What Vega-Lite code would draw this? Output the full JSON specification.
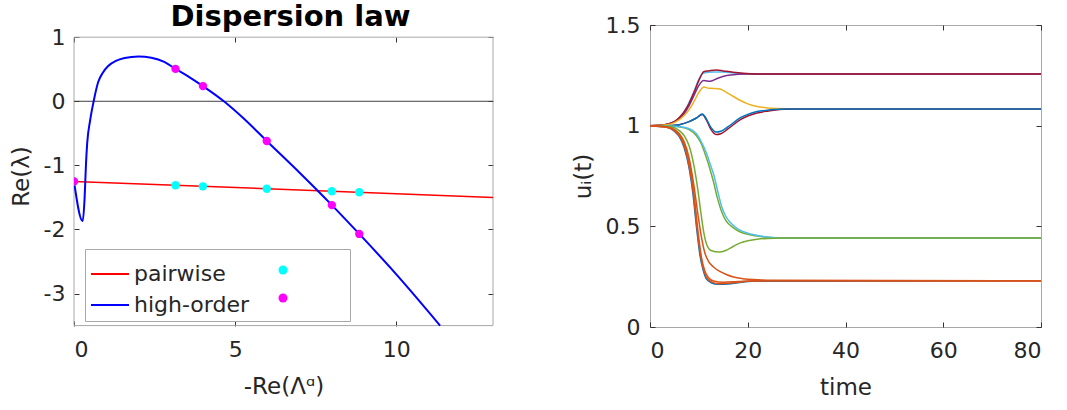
{
  "$schema": "https://vega.github.io/schema/vega-lite/v6.json",
  "padding": {"left": 10, "top": 2, "right": 5, "bottom": 5},
  "background": "white",
  "spacing": 77,
  "columns": 2,
  "align": "none",
  "resolve": {"scale": {"color": "independent", "fill": "independent"}, "legend": {"color": "independent", "fill": "independent"}},
  "config": {
    "font": "DejaVu Sans",
    "view": {"stroke": "#a8a8a8", "strokeWidth": 1},
    "axis": {
      "grid": false, "domain": false,
      "labelFont": "DejaVu Sans", "labelFontSize": 22, "labelColor": "#262626",
      "titleFont": "DejaVu Sans", "titleFontSize": 23, "titleFontWeight": "normal", "titleColor": "#262626",
      "tickColor": "#333333", "tickSize": -5
    },
    "title": {"font": "DejaVu Sans"}
  },
  "datasets": {
    "disp": [
      {"s": "pairwise", "x": 0, "y": -1.25},
      {"s": "pairwise", "x": 13, "y": -1.5},
      {"s": "high-order", "x": 0, "y": -1.25},
      {"s": "high-order", "x": 0.27, "y": -1.87},
      {"s": "high-order", "x": 0.33, "y": -1.5},
      {"s": "high-order", "x": 0.37, "y": -1.0},
      {"s": "high-order", "x": 0.41, "y": -0.65},
      {"s": "high-order", "x": 0.5, "y": -0.3},
      {"s": "high-order", "x": 0.61, "y": 0},
      {"s": "high-order", "x": 0.75, "y": 0.3},
      {"s": "high-order", "x": 0.9, "y": 0.45},
      {"s": "high-order", "x": 1.06, "y": 0.55},
      {"s": "high-order", "x": 1.3, "y": 0.63},
      {"s": "high-order", "x": 1.57, "y": 0.675},
      {"s": "high-order", "x": 2.0, "y": 0.7},
      {"s": "high-order", "x": 2.4, "y": 0.68},
      {"s": "high-order", "x": 2.8, "y": 0.615},
      {"s": "high-order", "x": 3.15, "y": 0.505},
      {"s": "high-order", "x": 3.6, "y": 0.37},
      {"s": "high-order", "x": 4.0, "y": 0.237},
      {"s": "high-order", "x": 4.65, "y": 0},
      {"s": "high-order", "x": 5.3, "y": -0.285},
      {"s": "high-order", "x": 5.98, "y": -0.62},
      {"s": "high-order", "x": 7.0, "y": -1.115},
      {"s": "high-order", "x": 8.0, "y": -1.62},
      {"s": "high-order", "x": 8.85, "y": -2.07},
      {"s": "high-order", "x": 10.0, "y": -2.7},
      {"s": "high-order", "x": 11.36, "y": -3.5}
    ],
    "pts": [
      {"k": "pairwise dots", "x": 0, "y": -1.25},
      {"k": "pairwise dots", "x": 3.15, "y": -1.31},
      {"k": "pairwise dots", "x": 4.0, "y": -1.327},
      {"k": "pairwise dots", "x": 5.98, "y": -1.365},
      {"k": "pairwise dots", "x": 8.0, "y": -1.404},
      {"k": "pairwise dots", "x": 8.85, "y": -1.42},
      {"k": "high-order dots", "x": 0, "y": -1.25},
      {"k": "high-order dots", "x": 3.15, "y": 0.505},
      {"k": "high-order dots", "x": 4.0, "y": 0.237},
      {"k": "high-order dots", "x": 5.98, "y": -0.62},
      {"k": "high-order dots", "x": 8.0, "y": -1.62},
      {"k": "high-order dots", "x": 8.85, "y": -2.07}
    ],
    "traj": [
      {"id": "c1", "t": 0, "u": 1.0}, {"id": "c1", "t": 3, "u": 1.005}, {"id": "c1", "t": 5, "u": 1.02}, {"id": "c1", "t": 7, "u": 1.07}, {"id": "c1", "t": 9, "u": 1.17}, {"id": "c1", "t": 10, "u": 1.23}, {"id": "c1", "t": 11, "u": 1.262}, {"id": "c1", "t": 13, "u": 1.266}, {"id": "c1", "t": 15, "u": 1.266}, {"id": "c1", "t": 17, "u": 1.262}, {"id": "c1", "t": 20, "u": 1.258}, {"id": "c1", "t": 24, "u": 1.257}, {"id": "c1", "t": 80, "u": 1.257},
      {"id": "p1", "t": 0, "u": 1.0}, {"id": "p1", "t": 3, "u": 1.005}, {"id": "p1", "t": 5, "u": 1.02}, {"id": "p1", "t": 6, "u": 1.035}, {"id": "p1", "t": 7, "u": 1.06}, {"id": "p1", "t": 8, "u": 1.1}, {"id": "p1", "t": 9, "u": 1.15}, {"id": "p1", "t": 10, "u": 1.2}, {"id": "p1", "t": 11, "u": 1.224}, {"id": "p1", "t": 12.3, "u": 1.22}, {"id": "p1", "t": 14, "u": 1.237}, {"id": "p1", "t": 15.7, "u": 1.249}, {"id": "p1", "t": 18, "u": 1.255}, {"id": "p1", "t": 20, "u": 1.257}, {"id": "p1", "t": 80, "u": 1.257},
      {"id": "r1", "t": 0, "u": 1.0}, {"id": "r1", "t": 3, "u": 1.005}, {"id": "r1", "t": 5, "u": 1.02}, {"id": "r1", "t": 6, "u": 1.04}, {"id": "r1", "t": 7, "u": 1.07}, {"id": "r1", "t": 8, "u": 1.11}, {"id": "r1", "t": 9, "u": 1.165}, {"id": "r1", "t": 10, "u": 1.225}, {"id": "r1", "t": 11, "u": 1.268}, {"id": "r1", "t": 12, "u": 1.272}, {"id": "r1", "t": 13.6, "u": 1.277}, {"id": "r1", "t": 15, "u": 1.272}, {"id": "r1", "t": 17, "u": 1.265}, {"id": "r1", "t": 19, "u": 1.26}, {"id": "r1", "t": 22, "u": 1.257}, {"id": "r1", "t": 80, "u": 1.257},
      {"id": "y1", "t": 0, "u": 1.0}, {"id": "y1", "t": 3, "u": 1.003}, {"id": "y1", "t": 5, "u": 1.015}, {"id": "y1", "t": 7, "u": 1.05}, {"id": "y1", "t": 8, "u": 1.08}, {"id": "y1", "t": 9, "u": 1.12}, {"id": "y1", "t": 10, "u": 1.165}, {"id": "y1", "t": 11.05, "u": 1.192}, {"id": "y1", "t": 12, "u": 1.186}, {"id": "y1", "t": 13, "u": 1.185}, {"id": "y1", "t": 14.3, "u": 1.182}, {"id": "y1", "t": 16, "u": 1.16}, {"id": "y1", "t": 18.5, "u": 1.125}, {"id": "y1", "t": 20, "u": 1.108}, {"id": "y1", "t": 21.9, "u": 1.095}, {"id": "y1", "t": 24, "u": 1.088}, {"id": "y1", "t": 26, "u": 1.085}, {"id": "y1", "t": 29, "u": 1.083}, {"id": "y1", "t": 80, "u": 1.083},
      {"id": "r2", "t": 0, "u": 0.998}, {"id": "r2", "t": 4, "u": 1.0}, {"id": "r2", "t": 6, "u": 1.005}, {"id": "r2", "t": 8, "u": 1.02}, {"id": "r2", "t": 9.5, "u": 1.038}, {"id": "r2", "t": 10.7, "u": 1.056}, {"id": "r2", "t": 11.5, "u": 1.03}, {"id": "r2", "t": 12.5, "u": 0.98}, {"id": "r2", "t": 13.5, "u": 0.956}, {"id": "r2", "t": 14.5, "u": 0.96}, {"id": "r2", "t": 16, "u": 0.985}, {"id": "r2", "t": 18.5, "u": 1.03}, {"id": "r2", "t": 20, "u": 1.048}, {"id": "r2", "t": 21.9, "u": 1.063}, {"id": "r2", "t": 24, "u": 1.072}, {"id": "r2", "t": 25.3, "u": 1.076}, {"id": "r2", "t": 27.4, "u": 1.081}, {"id": "r2", "t": 30, "u": 1.083}, {"id": "r2", "t": 80, "u": 1.083},
      {"id": "b1", "t": 0, "u": 0.998}, {"id": "b1", "t": 4, "u": 1.0}, {"id": "b1", "t": 6, "u": 1.005}, {"id": "b1", "t": 8, "u": 1.02}, {"id": "b1", "t": 9.5, "u": 1.038}, {"id": "b1", "t": 10.7, "u": 1.058}, {"id": "b1", "t": 11.5, "u": 1.035}, {"id": "b1", "t": 12.5, "u": 0.99}, {"id": "b1", "t": 13.5, "u": 0.968}, {"id": "b1", "t": 14.5, "u": 0.972}, {"id": "b1", "t": 16, "u": 0.995}, {"id": "b1", "t": 18.5, "u": 1.04}, {"id": "b1", "t": 20, "u": 1.056}, {"id": "b1", "t": 21.9, "u": 1.07}, {"id": "b1", "t": 24, "u": 1.077}, {"id": "b1", "t": 25.3, "u": 1.08}, {"id": "b1", "t": 28, "u": 1.083}, {"id": "b1", "t": 80, "u": 1.083},
      {"id": "g1", "t": 0, "u": 1.0}, {"id": "g1", "t": 4, "u": 0.998}, {"id": "g1", "t": 6, "u": 0.994}, {"id": "g1", "t": 8, "u": 0.98}, {"id": "g1", "t": 9.5, "u": 0.95}, {"id": "g1", "t": 10.5, "u": 0.91}, {"id": "g1", "t": 11.4, "u": 0.85}, {"id": "g1", "t": 12.2, "u": 0.79}, {"id": "g1", "t": 13, "u": 0.72}, {"id": "g1", "t": 13.8, "u": 0.64}, {"id": "g1", "t": 14.7, "u": 0.57}, {"id": "g1", "t": 15.5, "u": 0.53}, {"id": "g1", "t": 16.4, "u": 0.505}, {"id": "g1", "t": 17.5, "u": 0.485}, {"id": "g1", "t": 18.5, "u": 0.472}, {"id": "g1", "t": 20, "u": 0.46}, {"id": "g1", "t": 21.9, "u": 0.452}, {"id": "g1", "t": 24, "u": 0.446}, {"id": "g1", "t": 27, "u": 0.442}, {"id": "g1", "t": 80, "u": 0.4415},
      {"id": "c2", "t": 0, "u": 1.0}, {"id": "c2", "t": 4, "u": 0.998}, {"id": "c2", "t": 6, "u": 0.995}, {"id": "c2", "t": 8, "u": 0.985}, {"id": "c2", "t": 9.5, "u": 0.96}, {"id": "c2", "t": 10.5, "u": 0.92}, {"id": "c2", "t": 11.6, "u": 0.86}, {"id": "c2", "t": 12.3, "u": 0.81}, {"id": "c2", "t": 13, "u": 0.76}, {"id": "c2", "t": 13.8, "u": 0.68}, {"id": "c2", "t": 14.7, "u": 0.595}, {"id": "c2", "t": 15.5, "u": 0.55}, {"id": "c2", "t": 16.4, "u": 0.52}, {"id": "c2", "t": 17.5, "u": 0.495}, {"id": "c2", "t": 18.5, "u": 0.48}, {"id": "c2", "t": 20, "u": 0.466}, {"id": "c2", "t": 21.9, "u": 0.455}, {"id": "c2", "t": 24, "u": 0.447}, {"id": "c2", "t": 26.7, "u": 0.442}, {"id": "c2", "t": 80, "u": 0.4415},
      {"id": "g2", "t": 0, "u": 1.0}, {"id": "g2", "t": 3, "u": 0.998}, {"id": "g2", "t": 5, "u": 0.99}, {"id": "g2", "t": 6, "u": 0.975}, {"id": "g2", "t": 7, "u": 0.95}, {"id": "g2", "t": 8, "u": 0.9}, {"id": "g2", "t": 9, "u": 0.8}, {"id": "g2", "t": 9.8, "u": 0.68}, {"id": "g2", "t": 10.4, "u": 0.57}, {"id": "g2", "t": 11, "u": 0.47}, {"id": "g2", "t": 11.6, "u": 0.41}, {"id": "g2", "t": 12.5, "u": 0.38}, {"id": "g2", "t": 14.1, "u": 0.372}, {"id": "g2", "t": 15.5, "u": 0.38}, {"id": "g2", "t": 17, "u": 0.4}, {"id": "g2", "t": 18.5, "u": 0.418}, {"id": "g2", "t": 20, "u": 0.428}, {"id": "g2", "t": 21.9, "u": 0.436}, {"id": "g2", "t": 24, "u": 0.44}, {"id": "g2", "t": 27, "u": 0.4415}, {"id": "g2", "t": 80, "u": 0.4415},
      {"id": "b2", "t": 0, "u": 0.998}, {"id": "b2", "t": 3, "u": 0.994}, {"id": "b2", "t": 5, "u": 0.972}, {"id": "b2", "t": 6, "u": 0.945}, {"id": "b2", "t": 7, "u": 0.89}, {"id": "b2", "t": 8, "u": 0.79}, {"id": "b2", "t": 8.8, "u": 0.66}, {"id": "b2", "t": 9.5, "u": 0.5}, {"id": "b2", "t": 10.2, "u": 0.36}, {"id": "b2", "t": 10.8, "u": 0.29}, {"id": "b2", "t": 11.5, "u": 0.24}, {"id": "b2", "t": 12.5, "u": 0.22}, {"id": "b2", "t": 14, "u": 0.212}, {"id": "b2", "t": 16, "u": 0.214}, {"id": "b2", "t": 18, "u": 0.22}, {"id": "b2", "t": 21, "u": 0.227}, {"id": "b2", "t": 80, "u": 0.23},
      {"id": "o1", "t": 0, "u": 0.998}, {"id": "o1", "t": 3, "u": 0.995}, {"id": "o1", "t": 5, "u": 0.975}, {"id": "o1", "t": 6, "u": 0.95}, {"id": "o1", "t": 7, "u": 0.9}, {"id": "o1", "t": 8, "u": 0.8}, {"id": "o1", "t": 8.8, "u": 0.68}, {"id": "o1", "t": 9.5, "u": 0.52}, {"id": "o1", "t": 10.2, "u": 0.38}, {"id": "o1", "t": 10.8, "u": 0.3}, {"id": "o1", "t": 11.5, "u": 0.25}, {"id": "o1", "t": 12.5, "u": 0.225}, {"id": "o1", "t": 14, "u": 0.215}, {"id": "o1", "t": 16, "u": 0.217}, {"id": "o1", "t": 18, "u": 0.222}, {"id": "o1", "t": 21, "u": 0.228}, {"id": "o1", "t": 25, "u": 0.23}, {"id": "o1", "t": 80, "u": 0.23},
      {"id": "o3", "t": 0, "u": 0.998}, {"id": "o3", "t": 4, "u": 0.99}, {"id": "o3", "t": 6, "u": 0.955}, {"id": "o3", "t": 7, "u": 0.91}, {"id": "o3", "t": 8, "u": 0.82}, {"id": "o3", "t": 9, "u": 0.66}, {"id": "o3", "t": 9.8, "u": 0.48}, {"id": "o3", "t": 10.5, "u": 0.35}, {"id": "o3", "t": 11.2, "u": 0.28}, {"id": "o3", "t": 12, "u": 0.245}, {"id": "o3", "t": 13, "u": 0.228}, {"id": "o3", "t": 15, "u": 0.222}, {"id": "o3", "t": 18, "u": 0.226}, {"id": "o3", "t": 22, "u": 0.23}, {"id": "o3", "t": 80, "u": 0.23},
      {"id": "o2", "t": 0, "u": 0.998}, {"id": "o2", "t": 3, "u": 0.995}, {"id": "o2", "t": 5, "u": 0.98}, {"id": "o2", "t": 6, "u": 0.96}, {"id": "o2", "t": 7, "u": 0.92}, {"id": "o2", "t": 8, "u": 0.84}, {"id": "o2", "t": 9, "u": 0.7}, {"id": "o2", "t": 9.8, "u": 0.56}, {"id": "o2", "t": 10.5, "u": 0.45}, {"id": "o2", "t": 11.2, "u": 0.37}, {"id": "o2", "t": 12, "u": 0.325}, {"id": "o2", "t": 13, "u": 0.298}, {"id": "o2", "t": 14, "u": 0.28}, {"id": "o2", "t": 15.5, "u": 0.262}, {"id": "o2", "t": 17.1, "u": 0.248}, {"id": "o2", "t": 19, "u": 0.24}, {"id": "o2", "t": 21.9, "u": 0.235}, {"id": "o2", "t": 25, "u": 0.232}, {"id": "o2", "t": 80, "u": 0.23}
    ]
  },
  "concat": [
    {
      "width": 419,
      "height": 302,
      "view": {"stroke": null},
      "title": {"text": "Dispersion law", "fontSize": 29, "fontWeight": "bold", "color": "#000000", "offset": -6.5, "dx": 7},
      "resolve": {"axis": {"x": "independent", "y": "independent"}},
      "layer": [
        {
          "data": {"values": [{"frame": "axes box"}]},
          "mark": {"type": "rect", "fill": null, "stroke": "#a8a8a8", "strokeWidth": 1},
          "encoding": {
            "x": {"datum": 0, "type": "quantitative", "scale": {"domain": [0, 13], "nice": false, "zero": false}, "axis": null},
            "x2": {"datum": 13},
            "y": {"datum": -3.5, "type": "quantitative", "scale": {"domain": [-3.522, 1.19], "nice": false, "zero": false}, "axis": null},
            "y2": {"datum": 1}
          }
        },
        {
          "data": {"values": [{"y": 0}]},
          "mark": {"type": "rule", "color": "#404040", "strokeWidth": 1},
          "encoding": {
            "y": {"field": "y", "type": "quantitative", "axis": null}
          }
        },
        {
          "data": {"name": "disp"},
          "transform": [{"filter": "datum.s == 'pairwise'"}],
          "mark": {"type": "line", "strokeWidth": 1.5, "clip": true},
          "encoding": {
            "x": {"field": "x", "type": "quantitative",
                  "axis": {"values": [0, 5, 10], "title": "-Re(Λᵅ)", "offset": -1, "labelPadding": 18, "titlePadding": 15, "labelExpr": "toString(datum.value)"}},
            "y": {"field": "y", "type": "quantitative",
                  "axis": {"values": [-3, -2, -1, 0, 1], "title": "Re(λ)", "labelPadding": 14, "titlePadding": 10, "labelExpr": "toString(datum.value)"}},
            "color": {"field": "s", "type": "nominal",
                      "scale": {"domain": ["pairwise", "high-order"], "range": ["#ff0000", "#0000ff"]},
                      "legend": {"orient": "none", "legendX": 11, "legendY": 224, "title": null,
                                 "strokeColor": "#a8a8a8", "fillColor": "#ffffff", "padding": 5,
                                 "symbolType": "stroke", "symbolSize": 1444, "symbolStrokeWidth": 2,
                                 "labelFontSize": 22, "labelColor": "#262626", "labelOffset": 4, "labelLimit": 400,
                                 "rowPadding": -12,
                                 "labelExpr": "datum.label + '\u00a0\u00a0\u00a0\u00a0\u00a0\u00a0\u00a0\u00a0\u00a0\u00a0\u00a0\u00a0\u00a0\u2009\u200b'"}}
          }
        },
        {
          "data": {"name": "disp"},
          "transform": [{"filter": "datum.s == 'high-order'"}],
          "mark": {"type": "line", "strokeWidth": 2, "clip": true, "interpolate": "monotone"},
          "encoding": {
            "x": {"field": "x", "type": "quantitative", "axis": {"orient": "top", "offset": -12, "values": [0, 5, 10], "labels": false, "title": null}},
            "y": {"field": "y", "type": "quantitative", "axis": {"orient": "right", "values": [-3, -2, -1, 0, 1], "labels": false, "title": null}},
            "color": {"field": "s", "type": "nominal"}
          }
        },
        {
          "data": {"name": "pts"},
          "mark": {"type": "point", "filled": true, "size": 70, "opacity": 1, "clip": true},
          "encoding": {
            "x": {"field": "x", "type": "quantitative", "axis": null},
            "y": {"field": "y", "type": "quantitative", "axis": null},
            "fill": {"field": "k", "type": "nominal",
                     "scale": {"domain": ["pairwise dots", "high-order dots"], "range": ["#00ffff", "#ff00ff"]},
                     "legend": {"orient": "none", "legendX": 193, "legendY": 229, "title": null,
                                "padding": 5, "symbolType": "circle", "symbolSize": 81,
                                "labelFontSize": 22, "labelOffset": 0, "rowPadding": 6,
                                "labelExpr": "''"}}
          }
        }
      ]
    },
    {
      "width": 391,
      "height": 302,
      "resolve": {"axis": {"x": "independent", "y": "independent"}},
      "layer": [
        {
          "data": {"name": "traj"},
          "transform": [{"filter": "indexof(['r1','p1','c1','y1','r2','b1'], datum.id) >= 0"}],
          "mark": {"type": "line", "strokeWidth": 1.5, "interpolate": "monotone"},
          "encoding": {
            "x": {"field": "t", "type": "quantitative", "scale": {"domain": [0, 80], "nice": false},
                  "axis": {"values": [0, 20, 40, 60, 80], "title": "time", "labelPadding": 18, "titlePadding": 15}},
            "y": {"field": "u", "type": "quantitative", "scale": {"domain": [0, 1.5], "nice": false},
                  "axis": {"values": [0, 0.5, 1, 1.5], "title": "uᵢ(t)", "labelPadding": 15, "titlePadding": 10, "labelExpr": "toString(datum.value)"}},
            "color": {"field": "id", "type": "nominal",
                      "scale": {"domain": ["c1", "p1", "r1", "y1", "r2", "b1", "g1", "c2", "g2", "b2", "o1", "o3", "o2"],
                                "range": ["#4DBEEE", "#7E2F8E", "#A2142F", "#EDB120", "#A2142F", "#0072BD", "#77AC30", "#4DBEEE", "#77AC30", "#0072BD", "#D95319", "#D95319", "#D95319"]},
                      "legend": null}
          }
        },
        {
          "data": {"name": "traj"},
          "transform": [{"filter": "indexof(['r1','p1','c1','y1','r2','b1'], datum.id) < 0"}],
          "mark": {"type": "line", "strokeWidth": 1.5, "interpolate": "monotone"},
          "encoding": {
            "x": {"field": "t", "type": "quantitative", "axis": {"orient": "top", "values": [0, 20, 40, 60, 80], "labels": false, "title": null}},
            "y": {"field": "u", "type": "quantitative", "axis": {"orient": "right", "values": [0, 0.5, 1, 1.5], "labels": false, "title": null}},
            "color": {"field": "id", "type": "nominal", "legend": null}
          }
        }
      ]
    }
  ]
}
